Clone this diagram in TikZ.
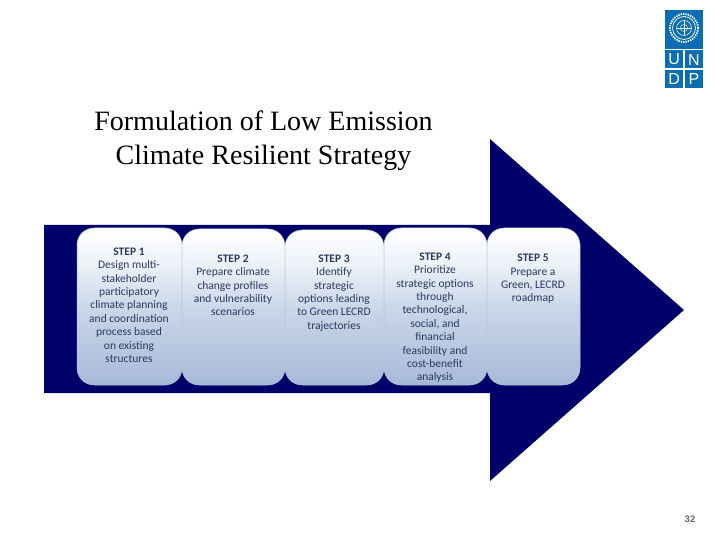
\documentclass[tikz,border=0pt]{standalone}
\usepackage{fontspec}
\setmainfont{Liberation Serif}
\newfontfamily\stepfont{Carlito}
\newfontfamily\pagefont{Liberation Sans}
\definecolor{navy}{HTML}{00006A}
\definecolor{undpblue}{HTML}{0B6DB3}
\definecolor{steptext}{HTML}{2A3A60}
\definecolor{boxedge}{HTML}{B4C6E0}
\definecolor{stepbottom}{HTML}{A6BAD8}
\definecolor{stepmid}{HTML}{CBD7E9}
\definecolor{stepupper}{HTML}{EDF2F8}
\pgfdeclareverticalshading{stepshade}{100bp}{
  color(0bp)=(stepbottom); color(25bp)=(stepbottom); color(50bp)=(stepmid); color(64bp)=(stepupper); color(75bp)=(white); color(100bp)=(white)}
\tikzset{
  x=1pt,y=-1pt,
  stepbox/.style={draw=boxedge,line width=.5pt,rounded corners=17pt,shading=stepshade,minimum height=0pt},
  steplabel/.style={font=\stepfont\fontsize{11.5}{13.4}\selectfont,text=steptext,align=center,anchor=north,inner sep=0pt},
  titletext/.style={font=\fontsize{28}{34}\selectfont,align=center,text=black,inner sep=0pt},
  logocell/.style={fill=undpblue,draw=none,minimum width=18.2pt,minimum height=18pt,inner sep=0pt,text=white,font=\pagefont\fontsize{16}{16}\selectfont},
  emblem/.style={draw=white,line width=.7pt},
}
\begin{document}
\begin{tikzpicture}
\useasboundingbox (0,0) rectangle (720,540);
\fill[white] (0,0) rectangle (720,540);
% arrow
\fill[navy] (44,225) -- (490,225) -- (490,139) -- (684,310) -- (490,481) -- (490,393) -- (44,393) -- cycle;
% step boxes
\draw[stepbox] (77,228) rectangle (182,385);
\draw[stepbox] (182,229) rectangle (285,385);
\draw[stepbox] (285,230) rectangle (384,385);
\draw[stepbox] (384,228) rectangle (487,385);
\draw[stepbox] (487,228) rectangle (580,385);
% step text
\node[steplabel] (s1) at (129,247.5) {\textbf{STEP 1}\\Design multi-\\stakeholder\\participatory\\climate planning\\and coordination\\process based\\on existing\\structures};
\node[steplabel] (s2) at (233,254.5) {\textbf{STEP 2}\\Prepare climate\\change profiles\\and vulnerability\\scenarios};
\node[steplabel] (s3) at (334,254.5) {\textbf{STEP 3}\\Identify\\strategic\\options leading\\to Green LECRD\\trajectories};
\node[steplabel] (s4) at (435,252.5) {\textbf{STEP 4}\\Prioritize\\strategic options\\through\\technological,\\social, and\\financial\\feasibility and\\cost-benefit\\analysis};
\node[steplabel] (s5) at (533,254) {\textbf{STEP 5}\\Prepare a\\Green, LECRD\\roadmap};
% title
\node[titletext] (title) at (263.5,141) {Formulation of Low Emission\\Climate Resilient Strategy};
% logo
\fill[undpblue] (665,10) rectangle (703,49);
\node[logocell] (u) at (674.1,59.5) {U};
\node[logocell] (n) at (693.9,59.5) {N};
\node[logocell] (d) at (674.1,79) {D};
\node[logocell] (p) at (693.9,79) {P};
\draw[emblem] (684,28) circle (11.5pt);
\draw[emblem,line width=.5pt] (684,28) circle (7.5pt);
\draw[emblem,line width=.4pt] (684,28) circle (3.6pt);
\draw[emblem,line width=.4pt] (676.5,28) -- (691.5,28) (684,20.5) -- (684,35.5);
\draw[white,line width=1.7pt,dash pattern=on 1.4pt off 1pt] (684,28) circle (14pt);
% page number
\node[font=\pagefont\bfseries\fontsize{9.5}{11}\selectfont,text=black!60,inner sep=0pt] (pg) at (690,519) {32};
\end{tikzpicture}
\end{document}
